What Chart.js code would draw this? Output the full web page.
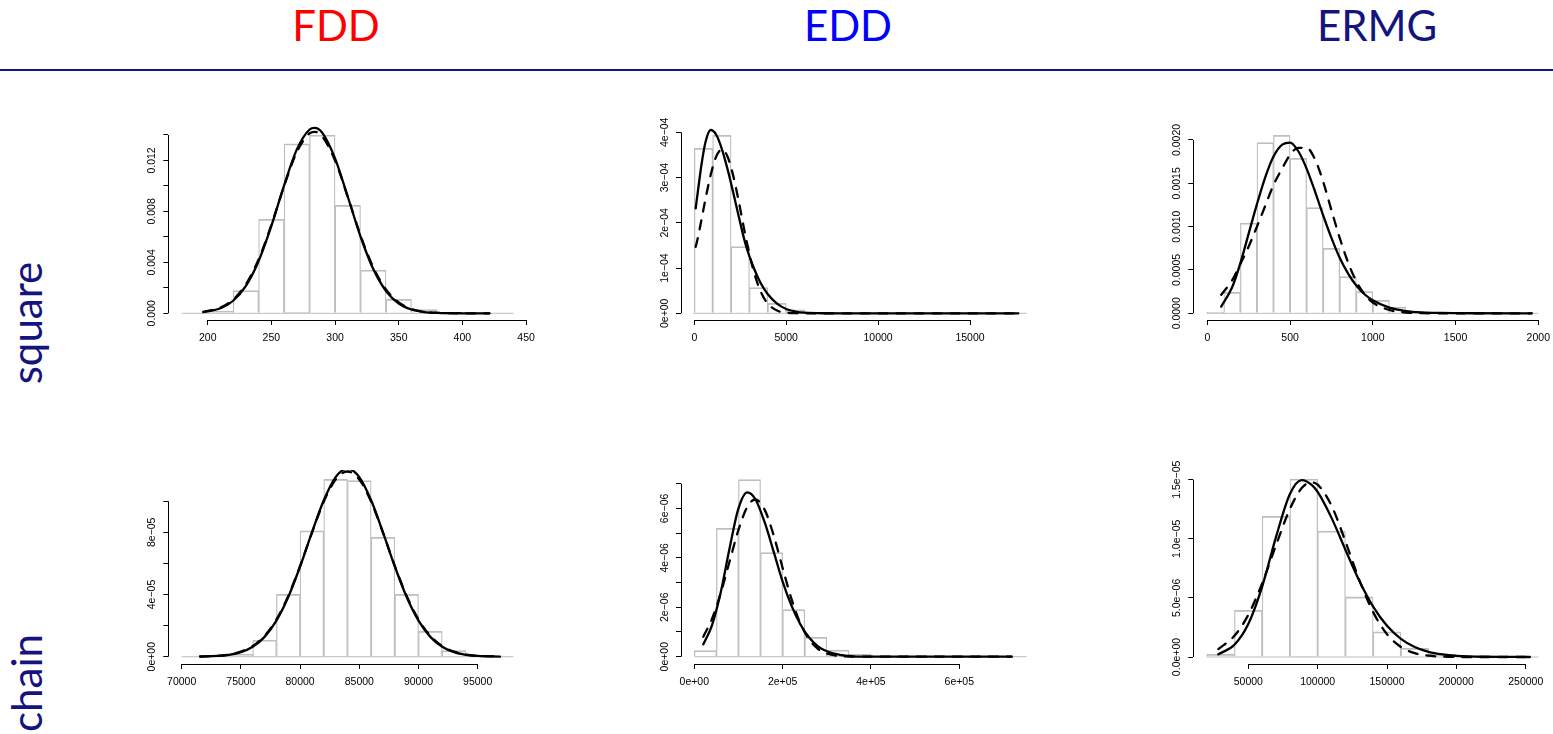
<!DOCTYPE html>
<html>
<head>
<meta charset="utf-8">
<script src="https://cdn.jsdelivr.net/npm/chart.js@4.4.1/dist/chart.umd.min.js"></script>
<style>
  html, body { margin: 0; padding: 0; background: #fff; }
  body { width: 1553px; height: 734px; overflow: hidden; position: relative; font-family: Lato, sans-serif; }
  .head { position: absolute; top: 4px; width: 300px; margin-left: -150px; text-align: center; font-size: 42px; line-height: 42px; }
  .rule { position: absolute; left: 0; top: 69px; width: 1553px; height: 2px; background: #14147f; }
  .side { position: absolute; width: 200px; height: 42px; margin-left: -100px; margin-top: -21px; text-align: center;
          font-size: 42px; line-height: 42px; color: #14147f; transform: rotate(-90deg); }
  canvas { position: absolute; }
</style>
</head>
<body>
<div class="head" style="left:336px;color:#ff0000">FDD</div>
<div class="head" style="left:848px;color:#0000ff">EDD</div>
<div class="head" style="left:1377px;color:#14147f">ERMG</div>
<div class="rule"></div>
<div class="side" style="left:26px;top:323px">square</div>
<div class="side" style="left:26px;top:683px">chain</div>
<canvas id="c1"></canvas>
<canvas id="c2"></canvas>
<canvas id="c3"></canvas>
<canvas id="c4"></canvas>
<canvas id="c5"></canvas>
<canvas id="c6"></canvas>
<script>
// FDD / square
const fddSqBreaks = [200, 220, 240, 260, 280, 300, 320, 340, 360, 380, 400];
const fddSqDensity = [0.00015, 0.00178, 0.00738, 0.0133, 0.0140, 0.00848, 0.0034, 0.0011, 0.00029, 0.00003];
const fddSqCurveX = [196.5, 210, 220, 230, 240, 250, 260, 270, 280, 284, 290, 300, 310, 320, 330, 340, 350, 360, 370, 380, 400, 421.2];
const fddSqSolid = [0.0001, 0.000395, 0.000985, 0.00215, 0.00411, 0.00687, 0.01005, 0.01287, 0.01443, 0.01456, 0.01417, 0.01217,
  0.00915, 0.00603, 0.00347, 0.00175, 0.00077, 0.0003, 0.0001, 0.00003, 0.000002, 0];
const fddSqDashed = [0.00012, 0.00045, 0.00108, 0.00228, 0.00424, 0.00694, 0.00999, 0.01266, 0.01413, 0.01425, 0.01388, 0.0120,
  0.00914, 0.00612, 0.00361, 0.00187, 0.00086, 0.00034, 0.00012, 0.00004, 0.000002, 0];
const fddSqXTicks = [200, 250, 300, 350, 400, 450];
const fddSqXLabels = ['200', '250', '300', '350', '400', '450'];
const fddSqYTicks = [0, 0.002, 0.004, 0.006, 0.008, 0.010, 0.012, 0.014];
const fddSqYLabels = ['0.000', '', '0.004', '', '0.008', '', '0.012', ''];

// EDD / square
const eddSqBreaks = [0, 1000, 2000, 3000, 4000, 5000, 6000, 7000];
const eddSqDensity = [3.646e-4, 3.934e-4, 1.473e-4, 5.67e-5, 2.2e-5, 7.4e-6, 1.5e-6];
const eddSqCurveX = [76, 200, 400, 600, 892, 1200, 1500, 1800, 2100, 2400, 2800, 3200, 3600, 4000, 4500, 5000, 5500, 6000, 7000, 8000, 10000, 14000, 17630];
const eddSqSolid = [2.32e-4, 2.71e-4, 3.31e-4, 3.77e-4, 4.05e-4, 3.94e-4, 3.63e-4, 3.20e-4, 2.70e-4, 2.17e-4, 1.51e-4, 1.04e-4,
  6.74e-5, 4.2e-5, 2.14e-5, 9.5e-6, 3.9e-6, 1.3e-6, 1e-7, 0, 0, 0, 0];
const eddSqDashed = [1.47e-4, 1.68e-4, 2.09e-4, 2.51e-4, 3.06e-4, 3.47e-4, 3.62e-4, 3.47e-4, 3.07e-4, 2.51e-4, 1.68e-4, 9.76e-5,
  4.9e-5, 2.13e-5, 6.1e-6, 1.4e-6, 2e-7, 0, 0, 0, 0, 0, 0];
const eddSqXTicks = [0, 5000, 10000, 15000];
const eddSqXLabels = ['0', '5000', '10000', '15000'];
const eddSqYTicks = [0, 1e-4, 2e-4, 3e-4, 4e-4];
const eddSqYLabels = ['0e+00', '1e\u221204', '2e\u221204', '3e\u221204', '4e\u221204'];

// ERMG / square
const ermgSqBreaks = [0, 100, 200, 300, 400, 500, 600, 700, 800, 900, 1000, 1100, 1200, 1300];
const ermgSqDensity = [0.00001, 0.000242, 0.00104, 0.00197, 0.002054, 0.001788, 0.00122, 0.00075, 0.000423, 0.00025, 0.00015, 0.000073, 0.00001];
const ermgSqCurveX = [84, 150, 200, 250, 300, 350, 400, 455, 500, 550, 600, 650, 700, 750, 800, 850, 900, 950, 1000, 1100, 1200, 1300, 1400, 1600, 1960];
const ermgSqSolid = [0.000077, 0.0003, 0.00058, 0.00092, 0.00126, 0.00157, 0.00181, 0.00195, 0.00197, 0.00187, 0.00167, 0.00141,
  0.00113, 0.00087, 0.00064, 0.00046, 0.00032, 0.00022, 0.00015, 0.000065, 0.000026, 0.00001, 0.000004, 0.0000005, 0];
const ermgSqDashed = [0.000214, 0.00038, 0.00057, 0.00077, 0.001, 0.00124, 0.00148, 0.00168, 0.00183, 0.00191, 0.00191, 0.00178,
  0.00152, 0.00119, 0.00087, 0.00059, 0.00037, 0.00022, 0.000125, 0.000038, 0.0000092, 0.0000015, 0.0000002, 0, 0];
const ermgSqXTicks = [0, 500, 1000, 1500, 2000];
const ermgSqXLabels = ['0', '500', '1000', '1500', '2000'];
const ermgSqYTicks = [0, 0.0005, 0.001, 0.0015, 0.002];
const ermgSqYLabels = ['0.0000', '0.0005', '0.0010', '0.0015', '0.0020'];

// FDD / chain
const fddChBreaks = [72000, 74000, 76000, 78000, 80000, 82000, 84000, 86000, 88000, 90000, 92000, 94000, 96000];
const fddChDensity = [2e-7, 1.5e-6, 1.07e-5, 4.01e-5, 8.1e-5, 1.14e-4, 1.132e-4, 7.68e-5, 4.01e-5, 1.63e-5, 3.9e-6, 5e-7];
const fddChCurveX = [71550, 73000, 74000, 75000, 76000, 77000, 78000, 79000, 80000, 81000, 82000, 83000, 84000,
  85000, 86000, 87000, 88000, 89000, 90000, 91000, 92000, 93000, 94000, 95000, 96880];
const fddChSolid = [9.8e-8, 4.7e-7, 1.23e-6, 2.93e-6, 6.41e-6, 1.274e-5, 2.315e-5, 3.836e-5, 5.80e-5, 8.0e-5, 1.006e-4, 1.155e-4, 1.209e-4,
  1.155e-4, 1.006e-4, 8.0e-5, 5.80e-5, 3.836e-5, 2.315e-5, 1.274e-5, 6.41e-6, 2.93e-6, 1.23e-6, 4.7e-7, 6e-8];
const fddChDashed = [1.2e-7, 5.4e-7, 1.38e-6, 3.23e-6, 6.88e-6, 1.342e-5, 2.395e-5, 3.91e-5, 5.84e-5, 7.97e-5, 9.97e-5, 1.139e-4, 1.191e-4,
  1.139e-4, 9.97e-5, 7.97e-5, 5.84e-5, 3.91e-5, 2.395e-5, 1.342e-5, 6.88e-6, 3.23e-6, 1.38e-6, 5.4e-7, 8e-8];
const fddChXTicks = [70000, 75000, 80000, 85000, 90000, 95000];
const fddChXLabels = ['70000', '75000', '80000', '85000', '90000', '95000'];
const fddChYTicks = [0, 2e-5, 4e-5, 6e-5, 8e-5, 1e-4];
const fddChYLabels = ['0e+00', '', '4e\u221205', '', '8e\u221205', ''];

// EDD / chain
const eddChBreaks = [0, 50000, 100000, 150000, 200000, 250000, 300000, 350000, 400000];
const eddChDensity = [2.43e-7, 5.19e-6, 7.17e-6, 4.21e-6, 1.91e-6, 7.8e-7, 2.7e-7, 1e-7];
const eddChCurveX = [20400, 40000, 60000, 80000, 100000, 120000, 138000, 160000, 180000, 200000, 220000, 240000,
  260000, 280000, 300000, 330000, 360000, 400000, 500000, 718500];
const eddChSolid = [5e-7, 1.27e-6, 2.62e-6, 4.40e-6, 6.0e-6, 6.65e-6, 6.38e-6, 5.40e-6, 4.23e-6, 3.04e-6, 2.07e-6, 1.31e-6,
  7.74e-7, 4.18e-7, 2.21e-7, 6.9e-8, 1.5e-8, 0, 0, 0];
const eddChDashed = [8.1e-7, 1.53e-6, 2.58e-6, 3.86e-6, 5.13e-6, 6.06e-6, 6.36e-6, 5.92e-6, 4.89e-6, 3.59e-6, 2.34e-6, 1.35e-6,
  6.96e-7, 3.18e-7, 1.29e-7, 2.7e-8, 0, 0, 0, 0];
const eddChXTicks = [0, 200000, 400000, 600000];
const eddChXLabels = ['0e+00', '2e+05', '4e+05', '6e+05'];
const eddChYTicks = [0, 1e-6, 2e-6, 3e-6, 4e-6, 5e-6, 6e-6, 7e-6];
const eddChYLabels = ['0e+00', '', '2e\u221206', '', '4e\u221206', '', '6e\u221206', ''];

// ERMG / chain
const ermgChBreaks = [20000, 40000, 60000, 80000, 100000, 120000, 140000, 160000, 180000, 200000, 220000];
const ermgChDensity = [2.3e-7, 3.95e-6, 1.19e-5, 1.506e-5, 1.066e-5, 5.08e-6, 2.14e-6, 7.3e-7, 2.3e-7, 5e-8];
const ermgChCurveX = [28400, 40000, 50000, 60000, 70000, 80000, 88500, 95500, 100000, 110000, 120000, 130000, 140000,
  150000, 160000, 170000, 180000, 190000, 200000, 220000, 253000];
const ermgChSolid = [2.26e-7, 1.04e-6, 2.79e-6, 5.96e-6, 1.016e-5, 1.379e-5, 1.497e-5, 1.459e-5, 1.397e-5, 1.177e-5, 9.08e-6, 6.46e-6,
  4.27e-6, 2.64e-6, 1.54e-6, 8.5e-7, 4.4e-7, 2.2e-7, 1.0e-7, 2e-8, 0];
const ermgChDashed = [6.7e-7, 1.79e-6, 3.57e-6, 6.23e-6, 9.46e-6, 1.253e-5, 1.429e-5, 1.478e-5, 1.458e-5, 1.28e-5, 9.79e-6, 6.53e-6,
  3.80e-6, 1.93e-6, 8.5e-7, 3.3e-7, 1.1e-7, 3e-8, 4e-9, 0, 0];
const ermgChXTicks = [50000, 100000, 150000, 200000, 250000];
const ermgChXLabels = ['50000', '100000', '150000', '200000', '250000'];
const ermgChYTicks = [0, 5e-6, 1e-5, 1.5e-5];
const ermgChYLabels = ['0.0e+00', '5.0e\u221206', '1.0e\u221205', '1.5e\u221205'];

// panel placement (page pixels) and axis ranges
const panels = [
  { id: 'c1', breaks: fddSqBreaks, dens: fddSqDensity, cx: fddSqCurveX, solid: fddSqSolid, dashed: fddSqDashed,
    xTicks: fddSqXTicks, xLabels: fddSqXLabels, yTicks: fddSqYTicks, yLabels: fddSqYLabels,
    box: { axL: 168.3, axB: 320, top: 125, right: 530 }, xlim: [169.05, 453.1], ylim: [-0.000526, 0.014785], zero: [179.6, 440.1] },
  { id: 'c2', breaks: eddSqBreaks, dens: eddSqDensity, cx: eddSqCurveX, solid: eddSqSolid, dashed: eddSqDashed,
    xTicks: eddSqXTicks, xLabels: eddSqXLabels, yTicks: eddSqYTicks, yLabels: eddSqYLabels,
    box: { axL: 681, axB: 320, top: 125, right: 1035 }, xlim: [-723.6, 18536], ylim: [-1.48e-5, 4.161e-4], zero: [-54, 18085] },
  { id: 'c3', breaks: ermgSqBreaks, dens: ermgSqDensity, cx: ermgSqCurveX, solid: ermgSqSolid, dashed: ermgSqDashed,
    xTicks: ermgSqXTicks, xLabels: ermgSqXLabels, yTicks: ermgSqYTicks, yLabels: ermgSqYLabels,
    box: { axL: 1193.3, axB: 320, top: 125, right: 1545 }, xlim: [-84.6, 2040.5], ylim: [-7.73e-5, 0.002173], zero: [-4, 2000] },
  { id: 'c4', breaks: fddChBreaks, dens: fddChDensity, cx: fddChCurveX, solid: fddChSolid, dashed: fddChDashed,
    xTicks: fddChXTicks, xLabels: fddChXLabels, yTicks: fddChYTicks, yLabels: fddChYLabels,
    box: { axL: 168.3, axB: 664, top: 470, right: 530 }, xlim: [68868, 99417], ylim: [-4.69e-6, 1.2006e-4], zero: [70000, 98007] },
  { id: 'c5', breaks: eddChBreaks, dens: eddChDensity, cx: eddChCurveX, solid: eddChSolid, dashed: eddChDashed,
    xTicks: eddChXTicks, xLabels: eddChXLabels, yTicks: eddChYTicks, yLabels: eddChYLabels,
    box: { axL: 681, axB: 664, top: 470, right: 1035 }, xlim: [-30113, 771400], ylim: [-2.953e-7, 7.553e-6], zero: [0, 752450] },
  { id: 'c6', breaks: ermgChBreaks, dens: ermgChDensity, cx: ermgChCurveX, solid: ermgChSolid, dashed: ermgChDashed,
    xTicks: ermgChXTicks, xLabels: ermgChXLabels, yTicks: ermgChYTicks, yLabels: ermgChYLabels,
    box: { axL: 1193.3, axB: 664, top: 470, right: 1545 }, xlim: [10346, 263900], ylim: [-5.92e-7, 1.582e-5], zero: [20000, 259135] }
];

const tickFont = { family: '"Liberation Sans", Arial, sans-serif', size: 10.5 };
const measure = document.createElement('canvas').getContext('2d');
measure.font = '10.5px "Liberation Sans", Arial, sans-serif';
const widest = labels => Math.max(...labels.map(s => measure.measureText(s).width));

// R style axis lines: only from first to last tick
const rAxes = {
  id: 'rAxes',
  afterDraw(chart) {
    const { ctx, chartArea, scales: { x, y } } = chart;
    const xt = x.ticks, yt = y.ticks;
    ctx.save();
    ctx.strokeStyle = '#000';
    ctx.lineWidth = 1;
    ctx.beginPath();
    const bx = Math.round(chartArea.left) + 0.5;
    ctx.moveTo(bx, y.getPixelForValue(yt[0].value));
    ctx.lineTo(bx, y.getPixelForValue(yt[yt.length - 1].value));
    const by = Math.round(chartArea.bottom) + 0.5;
    ctx.moveTo(x.getPixelForValue(xt[0].value), by);
    ctx.lineTo(x.getPixelForValue(xt[xt.length - 1].value), by);
    ctx.stroke();
    ctx.restore();
  }
};

function makeChart(p) {
  const yW = 40, xH = 30;
  const canvas = document.getElementById(p.id);
  const left = Math.floor(p.box.axL - yW - 10);
  const top = Math.floor(p.box.top - 20);
  const w = Math.ceil(p.box.right + 20 - left);
  const h = Math.ceil(p.box.axB + xH + 4 - top);
  canvas.style.left = left + 'px';
  canvas.style.top = top + 'px';
  canvas.width = w;
  canvas.height = h;

  const bars = p.dens.map((d, i) => ({ x: (p.breaks[i] + p.breaks[i + 1]) / 2, y: d }));
  const curve = vals => p.cx.map((x, i) => ({ x, y: vals[i] }));
  const lineBase = { type: 'line', borderColor: '#000', borderWidth: 2.3, pointRadius: 0,
    cubicInterpolationMode: 'monotone', borderCapStyle: 'round', borderJoinStyle: 'round' };
  const grid = { drawOnChartArea: false, drawTicks: true, tickLength: 5, color: '#000', lineWidth: 1, offset: false };

  new Chart(canvas, {
    type: 'bar',
    data: {
      datasets: [
        { ...lineBase, data: curve(p.solid), order: 0 },
        { ...lineBase, data: curve(p.dashed), borderDash: [9, 9], order: 1 },
        { type: 'bar', data: bars, backgroundColor: 'rgba(0,0,0,0)', borderColor: '#bebebe',
          borderWidth: { left: 0.6, right: 0.6, top: 1.1, bottom: 0 }, borderSkipped: false,
          barPercentage: 1, categoryPercentage: 1, order: 2 },
        { type: 'line', data: [{ x: p.zero[0], y: 0 }, { x: p.zero[1], y: 0 }], borderColor: '#bebebe',
          borderWidth: 1, pointRadius: 0, order: 3 }
      ]
    },
    options: {
      responsive: false,
      animation: false,
      devicePixelRatio: 1,
      layout: { padding: { left: p.box.axL - yW - left, top: p.box.top - top, right: w - (p.box.right - left), bottom: h - (p.box.axB - top) - xH } },
      plugins: { legend: { display: false }, tooltip: { enabled: false } },
      scales: {
        x: {
          type: 'linear', min: p.xlim[0], max: p.xlim[1], offset: false, grid, border: { display: false },
          afterBuildTicks: s => { s.ticks = p.xTicks.map(v => ({ value: v })); },
          afterFit: s => { s.height = xH; },
          ticks: { autoSkip: false, minRotation: 0, maxRotation: 0, padding: 6.5, font: tickFont, color: '#000',
            callback: (v, i) => p.xLabels[i] }
        },
        y: {
          type: 'linear', min: p.ylim[0], max: p.ylim[1], grid, border: { display: false },
          afterBuildTicks: s => { s.ticks = p.yTicks.map(v => ({ value: v })); },
          afterFit: s => { s.width = yW; },
          ticks: { autoSkip: false, minRotation: 90, maxRotation: 90, crossAlign: 'center',
            padding: 16 - 5 - widest(p.yLabels) / 2, font: tickFont, color: '#000',
            callback: (v, i) => p.yLabels[i] }
        }
      }
    },
    plugins: [rAxes]
  });
}

panels.forEach(makeChart);
</script>
</body>
</html>
